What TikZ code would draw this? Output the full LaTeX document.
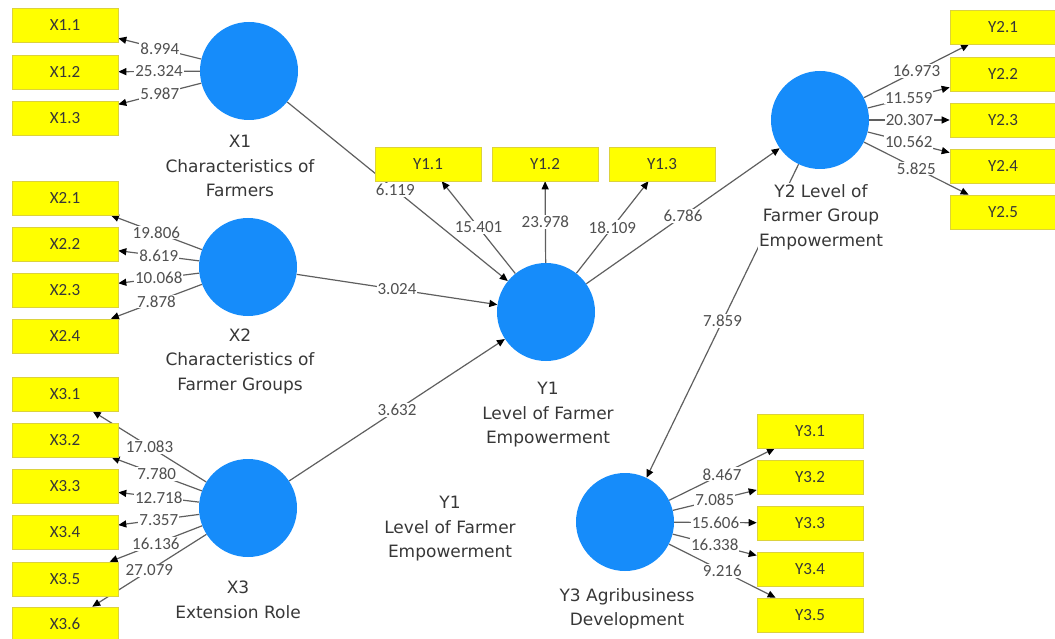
\documentclass[tikz,border=0pt]{standalone}
\usepackage{fontspec}
\newfontfamily\dejavu{DejaVu Sans}
\newfontfamily\carl{Carlito}
\usetikzlibrary{arrows.meta}
\pgfdeclarelayer{bg}
\pgfsetlayers{bg,main}
\definecolor{lvblue}{RGB}{22,140,250}
\definecolor{boxyellow}{RGB}{255,255,0}
\definecolor{boxedge}{RGB}{220,210,60}
\definecolor{linegray}{RGB}{95,95,95}
\definecolor{txtgray}{RGB}{55,55,55}
\definecolor{numgray}{RGB}{80,80,80}
\begin{document}
\begin{tikzpicture}[x=1pt,y=-1pt,
 lv/.style={circle,fill=lvblue,minimum size=98pt,inner sep=0pt},
 ind/.style={rectangle,fill=boxyellow,draw=boxedge,line width=0.6pt,minimum width=106pt,minimum height=34pt,inner sep=0pt,font=\carl\fontsize{17}{20}\selectfont,text=txtgray},
 lbl/.style={align=center,font=\dejavu\fontsize{17}{24.5}\selectfont,text=txtgray,inner sep=1pt},
 lblw/.style={lbl,fill=white},
 num/.style={font=\carl\fontsize{17}{18}\selectfont,text=numgray,fill=white,inner sep=1pt},
 arr/.style={draw=linegray,line width=1.2pt,-{Triangle[length=8pt,width=7pt,color=black]}}
]
\useasboundingbox (0,0) rectangle (1055,639);
\clip (0,0) rectangle (1055,639);

% latent variables
\node[lv] (X1) at (249,71) {};
\node[lv] (X2) at (248,267) {};
\node[lv] (X3) at (248,508) {};
\node[lv] (Y1) at (546,312) {};
\node[lv] (Y2) at (820,120) {};
\node[lv] (Y3) at (625,522) {};

% labels
\node[lbl] (LX1) at (240,166) {X1\\Characteristics of\\Farmers};
\node[lbl] (LX2) at (240,361) {X2\\Characteristics of\\Farmer Groups};
\node[lbl] (LX3) at (238,600) {X3\\Extension Role};
\node[lbl] (LY1) at (548,415) {Y1\\Level of Farmer\\Empowerment};
\node[lbl] (LY1b) at (450,529) {Y1\\Level of Farmer\\Empowerment};
\node[lblw] (LY2) at (821,217) {Y2 Level of\\Farmer Group\\Empowerment};
\node[lbl] (LY3) at (627,609) {Y3 Agribusiness\\Development};

% indicators
\node[ind] (X11) at (65,25) {X1.1};
\node[ind] (X12) at (65,72) {X1.2};
\node[ind] (X13) at (65,118) {X1.3};
\node[ind] (X21) at (65,198) {X2.1};
\node[ind] (X22) at (65,244) {X2.2};
\node[ind] (X23) at (65,290) {X2.3};
\node[ind] (X24) at (65,336) {X2.4};
\node[ind] (X31) at (65,394) {X3.1};
\node[ind] (X32) at (65,440) {X3.2};
\node[ind] (X33) at (65,486) {X3.3};
\node[ind] (X34) at (65,532) {X3.4};
\node[ind] (X35) at (65,579) {X3.5};
\node[ind] (X36) at (65,624) {X3.6};
\node[ind] (Y11) at (428,164) {Y1.1};
\node[ind] (Y12) at (545,164) {Y1.2};
\node[ind] (Y13) at (662,164) {Y1.3};
\node[ind] (Y21) at (1003,27) {Y2.1};
\node[ind] (Y22) at (1003,74) {Y2.2};
\node[ind] (Y23) at (1003,120) {Y2.3};
\node[ind] (Y24) at (1003,166) {Y2.4};
\node[ind] (Y25) at (1003,212) {Y2.5};
\node[ind] (Y31) at (810,431) {Y3.1};
\node[ind] (Y32) at (810,477) {Y3.2};
\node[ind] (Y33) at (810,523) {Y3.3};
\node[ind] (Y34) at (810,569) {Y3.4};
\node[ind] (Y35) at (810,615) {Y3.5};

\begin{pgfonlayer}{bg}
% structural paths
\path[arr] (X1) -- node[num,pos=0.49]{6.119} (Y1);
\path[arr] (X2) -- node[num]{3.024} (Y1);
\path[arr] (X3) -- node[num]{3.632} (Y1);
\path[arr] (Y1) -- node[num]{6.786} (Y2);
\path[arr] (Y2) -- node[num]{7.859} (Y3);
% loadings X1
\path[arr] (X1) -- node[num]{8.994} (X11);
\path[arr] (X1) -- node[num]{25.324} (X12);
\path[arr] (X1) -- node[num]{5.987} (X13);
% loadings X2
\path[arr] (X2) -- node[num]{19.806} (X21);
\path[arr] (X2) -- node[num]{8.619} (X22);
\path[arr] (X2) -- node[num]{10.068} (X23);
\path[arr] (X2) -- node[num]{7.878} (X24);
% loadings X3
\path[arr] (X3) -- node[num]{17.083} (X31);
\path[arr] (X3) -- node[num]{7.780} (X32);
\path[arr] (X3) -- node[num]{12.718} (X33);
\path[arr] (X3) -- node[num]{7.357} (X34);
\path[arr] (X3) -- node[num]{16.136} (X35);
\path[arr] (X3) -- node[num]{27.079} (X36);
% loadings Y1
\path[arr] (Y1) -- node[num]{15.401} (Y11);
\path[arr] (Y1) -- node[num]{23.978} (Y12);
\path[arr] (Y1) -- node[num]{18.109} (Y13);
% loadings Y2
\path[arr] (Y2) -- node[num]{16.973} (Y21);
\path[arr] (Y2) -- node[num]{11.559} (Y22);
\path[arr] (Y2) -- node[num]{20.307} (Y23);
\path[arr] (Y2) -- node[num]{10.562} (Y24);
\path[arr] (Y2) -- node[num]{5.825} (Y25);
% loadings Y3
\path[arr] (Y3) -- node[num]{8.467} (Y31);
\path[arr] (Y3) -- node[num]{7.085} (Y32);
\path[arr] (Y3) -- node[num]{15.606} (Y33);
\path[arr] (Y3) -- node[num]{16.338} (Y34);
\path[arr] (Y3) -- node[num]{9.216} (Y35);
\end{pgfonlayer}
\end{tikzpicture}
\end{document}
